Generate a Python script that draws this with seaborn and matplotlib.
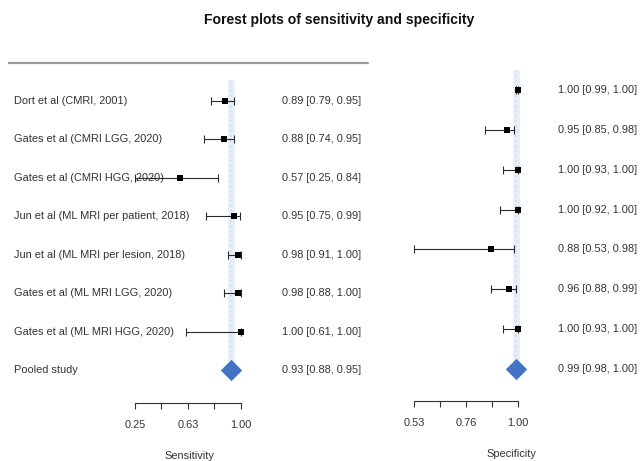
import matplotlib
matplotlib.use("Agg")
import matplotlib.pyplot as plt
import seaborn as sns
import pandas as pd
import numpy as np

# ---------------- data ----------------
studies = [
    "Dort et al (CMRI, 2001)",
    "Gates et al (CMRI LGG, 2020)",
    "Gates et al (CMRI HGG, 2020)",
    "Jun et al (ML MRI per patient, 2018)",
    "Jun et al (ML MRI per lesion, 2018)",
    "Gates et al (ML MRI LGG, 2020)",
    "Gates et al (ML MRI HGG, 2020)",
]
pooled_label = "Pooled study"

sens_est = [0.89, 0.88, 0.57, 0.95, 0.98, 0.98, 1.00]
sens_lo = [0.79, 0.74, 0.25, 0.75, 0.91, 0.88, 0.61]
sens_hi = [0.95, 0.95, 0.84, 0.99, 1.00, 1.00, 1.00]
sens_pooled = [0.93, 0.88, 0.95]  # estimate, lower, upper

spec_est = [1.00, 0.95, 1.00, 1.00, 0.88, 0.96, 1.00]
spec_lo = [0.99, 0.85, 0.93, 0.92, 0.53, 0.88, 0.93]
spec_hi = [1.00, 0.98, 1.00, 1.00, 0.98, 0.99, 1.00]
spec_pooled = [0.99, 0.98, 1.00]

sens_ticks = [0.25, 0.4375, 0.625, 0.8125, 1.00]
sens_ticklabels = ["0.25", "", "0.63", "", "1.00"]
spec_ticks = [0.53, 0.6475, 0.765, 0.8825, 1.00]
spec_ticklabels = ["0.53", "", "0.76", "", "1.00"]

title = "Forest plots of sensitivity and specificity"

# ---------------- style ----------------
sns.set_theme(style="white")
plt.rcParams['font.family'] = ['Liberation Sans', 'DejaVu Sans']

W, H = 642, 461
fig = plt.figure(figsize=(W / 100, H / 100), dpi=100)
TXT = "#333333"
DIAMOND = "#4472c4"


def add_px_axes(l, r, top, bottom):
    return fig.add_axes([l / W, 1 - bottom / H, (r - l) / W, (bottom - top) / H])


def fmt(e, lo, hi):
    return f"{e:.2f} [{lo:.2f}, {hi:.2f}]"


def forest(ax, est, lo, hi, pooled, ticks, ticklabels, xlabel,
           px_l, px_r, px_t0, px_t1, row0_px, row_step, top_px, bottom_px,
           est_text_px, show_labels, line_top):
    n = len(est)
    rows = np.arange(n)
    df = pd.DataFrame({"est": est, "lo": lo, "hi": hi, "row": rows})
    k = (px_t1 - px_t0) / (ticks[-1] - ticks[0])
    ax.set_xlim(ticks[0] - (px_t0 - px_l) / k, ticks[-1] + (px_r - px_t1) / k)
    ax.set_ylim((bottom_px - row0_px) / row_step, (top_px - row0_px) / row_step)

    # reference band at pooled estimate
    ax.vlines(pooled[0], line_top, n, color="#e6eef7", lw=4.8, zorder=1)
    ax.vlines(pooled[0], line_top, n, color="#d3dfee", lw=1.2,
              linestyles=(0, (1, 2)), zorder=1.5)

    ax.errorbar(df["est"], df["row"],
                xerr=[df["est"] - df["lo"], df["hi"] - df["est"]],
                fmt="none", ecolor="#2b2b2b", elinewidth=0.8,
                capsize=2.7, capthick=0.8, zorder=3)
    sns.scatterplot(data=df, x="est", y="row", marker="s", s=15,
                    color="black", linewidth=0, ax=ax, zorder=4, legend=False)
    sns.scatterplot(x=[pooled[0]], y=[n], marker="D", s=118,
                    color=DIAMOND, linewidth=0, ax=ax, zorder=4, legend=False)

    ytr = ax.get_yaxis_transform()
    width = px_r - px_l
    labels = studies + [pooled_label]
    texts = [fmt(e, l, h) for e, l, h in zip(est, lo, hi)] + [fmt(*pooled)]
    for i in range(n + 1):
        if show_labels:
            ax.text((14 - px_l) / width, i, labels[i], transform=ytr,
                    ha="left", va="center", fontsize=7.9, color=TXT)
        ax.text((est_text_px - px_l) / width, i, texts[i], transform=ytr,
                ha="left", va="center", fontsize=7.9, color=TXT)

    for s in ["top", "right", "left"]:
        ax.spines[s].set_visible(False)
    ax.spines["bottom"].set_bounds(ticks[0], ticks[-1])
    ax.spines["bottom"].set_color("#333333")
    ax.spines["bottom"].set_linewidth(0.8)
    ax.set_xticks(ticks)
    ax.set_xticklabels(ticklabels)
    ax.set_yticks([])
    ax.tick_params(axis="x", direction="out", length=4.5, width=0.8,
                   color="#333333", labelcolor=TXT, labelsize=7.9, pad=7.5,
                   bottom=True)
    ax.set_xlabel(xlabel, fontsize=7.9, color=TXT, labelpad=15)
    ax.set_ylabel("")
    ax.set_facecolor("none")


# left panel: sensitivity
axL = add_px_axes(8, 370, 55, 403)
forest(axL, sens_est, sens_lo, sens_hi, sens_pooled, sens_ticks,
       sens_ticklabels, "Sensitivity",
       px_l=8, px_r=370, px_t0=135, px_t1=241,
       row0_px=101, row_step=38.43, top_px=55, bottom_px=403,
       est_text_px=282, show_labels=True, line_top=-0.55)
axL.axhline((63 - 101) / 38.43, xmin=0, xmax=0.994, color="#9c9c9c", lw=1.6)

# right panel: specificity
axR = add_px_axes(380, 642, 55, 401)
forest(axR, spec_est, spec_lo, spec_hi, spec_pooled, spec_ticks,
       spec_ticklabels, "Specificity",
       px_l=380, px_r=642, px_t0=414, px_t1=518,
       row0_px=90, row_step=39.86, top_px=55, bottom_px=401,
       est_text_px=558, show_labels=False, line_top=-0.5)

fig.text(339 / W, 1 - 20 / H, title, ha="center", va="center",
         fontsize=10.1, fontweight="bold", color="#111111")

fig.savefig("out.png", dpi=100)
